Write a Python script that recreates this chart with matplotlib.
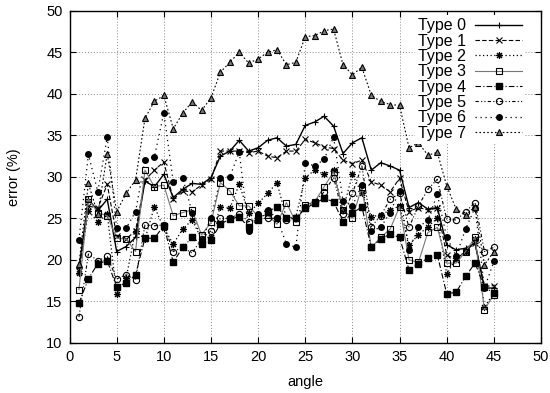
import matplotlib
matplotlib.use("Agg")
import matplotlib.pyplot as plt
import numpy as np

angles = list(range(1, 46))

type0 = [19.0, 27.3, 25.9, 27.3, 21.0, 21.6, 22.7, 29.5, 28.8, 30.3, 27.5, 28.5, 29.2, 29.1, 29.9,
         32.5, 33.1, 34.4, 33.1, 33.5, 34.4, 34.7, 33.7, 33.9, 36.2, 36.6, 37.3, 36.1, 32.8, 34.1,
         34.7, 30.8, 31.7, 31.3, 30.8, 26.3, 26.9, 26.1, 26.3, 21.8, 21.2, 21.4, 22.0, 16.6, 16.6]
type1 = [18.6, 26.5, 26.2, 29.1, 22.9, 22.5, 23.5, 29.6, 30.8, 31.8, 27.3, 28.3, 28.2, 29.0, 29.7,
         33.1, 33.1, 33.1, 32.9, 33.1, 32.5, 32.3, 33.1, 33.1, 34.5, 34.1, 33.6, 33.4, 32.0, 31.6,
         32.0, 29.4, 29.0, 28.2, 29.8, 25.8, 26.3, 26.0, 26.2, 20.6, 20.0, 21.1, 22.0, 16.8, 16.9]
type2 = [18.4, 25.9, 24.6, 25.5, 15.9, 17.8, 23.5, 22.5, 26.4, 23.8, 21.9, 23.7, 24.8, 22.5, 22.8,
         26.4, 26.2, 29.1, 25.6, 26.8, 28.0, 29.3, 25.0, 25.2, 29.9, 30.8, 30.3, 30.8, 26.0, 30.3,
         28.0, 25.2, 25.4, 26.0, 26.5, 21.8, 23.0, 24.0, 25.0, 18.3, 20.2, 21.0, 22.5, 14.3, 16.0]
type3 = [16.4, 27.3, 25.7, 25.3, 22.6, 22.5, 21.0, 30.8, 28.8, 29.0, 25.3, 25.7, 26.0, 23.0, 24.5,
         29.3, 28.3, 26.5, 26.5, 25.2, 25.4, 24.3, 26.9, 24.5, 26.6, 27.0, 28.8, 30.6, 26.0, 25.0,
         28.8, 21.5, 22.7, 23.7, 26.4, 20.0, 19.7, 23.3, 23.9, 19.6, 19.6, 21.0, 22.7, 14.0, 15.8]
type4 = [14.8, 17.7, 19.55, 19.9, 16.7, 17.2, 18.2, 22.6, 22.6, 24.1, 19.7, 21.5, 22.7, 21.9, 22.4,
         24.3, 24.9, 25.2, 23.9, 24.8, 25.8, 26.4, 25.0, 25.0, 26.2, 26.8, 27.4, 27.0, 24.6, 25.6,
         26.4, 21.5, 22.5, 23.1, 22.7, 18.8, 19.5, 20.2, 20.6, 15.9, 16.1, 18.0, 19.6, 16.7, 16.0]
type5 = [13.1, 20.7, 19.9, 20.4, 17.7, 18.2, 17.6, 24.2, 24.1, 24.2, 21.0, 21.5, 20.8, 22.5, 23.5,
         25.0, 25.0, 25.5, 24.6, 25.0, 25.0, 25.0, 24.8, 25.0, 26.4, 27.0, 28.2, 29.9, 25.5, 28.0,
         31.3, 24.0, 25.3, 27.3, 28.0, 23.9, 26.5, 28.5, 29.7, 24.9, 24.8, 25.8, 26.9, 21.0, 21.5]
type6 = [22.4, 32.7, 28.2, 34.8, 23.8, 23.8, 25.8, 32.0, 32.4, 37.7, 29.4, 29.9, 25.7, 22.3, 25.0,
         29.8, 30.0, 33.0, 23.5, 25.5, 26.0, 25.0, 21.9, 21.5, 31.7, 31.3, 32.1, 34.8, 27.1, 26.5,
         29.0, 23.5, 23.9, 25.7, 28.3, 21.2, 23.9, 24.8, 27.9, 22.7, 20.5, 23.7, 26.3, 16.6, 19.8]
type7 = [19.5, 29.2, 25.5, 32.8, 25.8, 28.0, 29.6, 37.05, 39.1, 39.8, 35.8, 37.65, 39.05, 38.0, 39.5,
         42.6, 43.8, 45.0, 43.7, 44.2, 45.0, 45.3, 43.5, 43.8, 46.9, 47.0, 47.6, 47.8, 43.5, 42.3,
         43.2, 39.8, 39.1, 38.7, 38.6, 33.5, 34.1, 32.6, 32.95, 28.9, 26.1, 25.4, 26.4, 19.4, 21.0]

labels = ["Type 0", "Type 1", "Type 2", "Type 3", "Type 4", "Type 5", "Type 6", "Type 7"]
series = [type0, type1, type2, type3, type4, type5, type6, type7]

styles = [
    dict(color="black", ls="-", lw=1.0, marker="+", ms=5, mew=0.8),
    dict(color="black", ls=(0, (4, 2)), lw=0.8, marker="x", ms=4, mew=0.8),
    dict(color="black", ls=(0, (1, 2)), lw=0.9, marker=(8, 2, 0), ms=5, mew=0.8),
    dict(color="#777777", ls="-", lw=0.8, marker="s", ms=4.5, mfc="none", mec="black", mew=0.8),
    dict(color="black", ls=(0, (5, 2, 1, 2)), lw=0.8, marker="s", ms=4, mfc="black", mec="black"),
    dict(color="black", ls=(0, (3, 2, 1, 2, 1, 2)), lw=0.8, marker="o", ms=4.5, mfc="none", mec="black", mew=0.8),
    dict(color="black", ls=(0, (1, 3)), lw=0.9, marker="o", ms=4, mfc="black", mec="black"),
    dict(color="black", ls=(0, (1.5, 2)), lw=0.8, marker="^", ms=4.5, mfc="#777777", mec="black", mew=0.8),
]

plt.rcParams['font.family'] = ['Liberation Sans', 'DejaVu Sans']
fig = plt.figure(figsize=(5.5, 3.93), dpi=100)
ax = fig.add_axes([0.1264, 0.1277, 0.8573, 0.8448])

for lab, ys, st in zip(labels, series, styles):
    ax.plot(angles, ys, label=lab, **st)

ax.set_xlim(0, 50)
ax.set_ylim(10, 50)
ax.set_xticks(range(0, 51, 5))
ax.set_yticks(range(10, 51, 5))
ax.tick_params(direction="in", top=True, right=True, labelsize=10.5, length=4, width=0.8, pad=5)
ax.grid(True, ls=(0, (1, 2)), color="#888888", lw=0.7)
for s in ax.spines.values():
    s.set_linewidth(1.0)
ax.set_xlabel("angle", fontsize=10.5, labelpad=8)
ax.set_ylabel("error (%)", fontsize=10.5, labelpad=18)

leg = ax.legend(loc="upper right", markerfirst=False, frameon=True, fontsize=11.5,
                handlelength=2.9, labelspacing=0.02, borderaxespad=0.0, handletextpad=0.6,
                borderpad=0.2, bbox_to_anchor=(0.966, 0.987))
leg.get_frame().set_facecolor("white")
leg.get_frame().set_edgecolor("none")
leg.get_frame().set_alpha(1.0)
leg.get_frame().set_boxstyle("square", pad=0)
fig.savefig("out.png", dpi=100)
